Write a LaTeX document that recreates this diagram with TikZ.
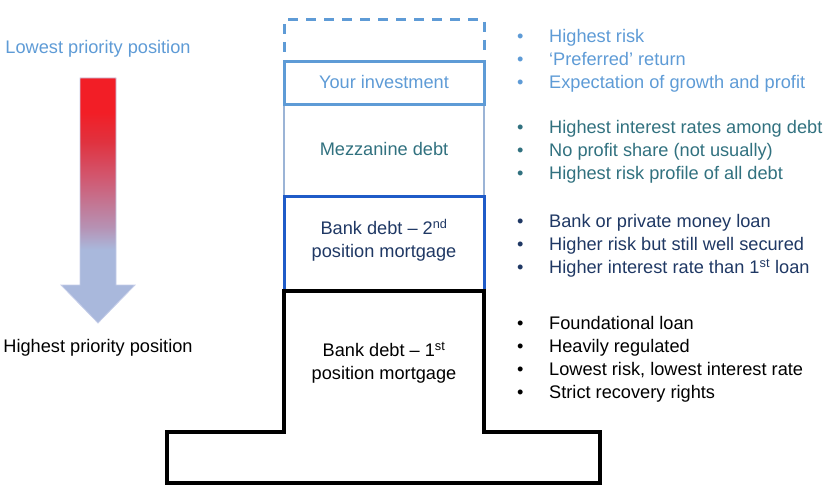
\documentclass[tikz,border=0pt]{standalone}
\usepackage{fontspec}
\setmainfont{Liberation Sans}
\definecolor{lblue}{HTML}{5E9BD6}
\definecolor{tealtxt}{HTML}{31717F}
\definecolor{navy}{HTML}{1F3864}
\definecolor{bblue}{HTML}{1F5BC8}
\definecolor{mzline}{HTML}{9BB4D6}
\definecolor{arrred}{HTML}{F21E26}
\definecolor{arrlav}{HTML}{A9B8DC}
\definecolor{arrmidR}{HTML}{E0323F}
\definecolor{arrmidA}{HTML}{D2566E}
\definecolor{arrmidB}{HTML}{B692B4}
\definecolor{arrline}{HTML}{C5CDE8}
\pgfdeclareverticalshading{prioshade}{100bp}{color(0bp)=(arrlav); color(40bp)=(arrlav); color(44.5bp)=(arrmidB); color(55bp)=(arrmidA); color(62bp)=(arrmidR); color(68bp)=(arrred); color(100bp)=(arrred)}
\begin{document}
\begin{tikzpicture}[x=1pt, y=-1pt, font=\fontsize{18.2}{23}\selectfont,
  tier/.style={rectangle, minimum width=200pt, inner sep=0pt, align=center},
  bulletlist/.style={anchor=west, inner sep=0pt, align=left},
  plainlbl/.style={inner sep=0pt}]
\useasboundingbox (0,0) rectangle (830,495);

% priority arrow
\path[shade, shading=prioshade, draw=arrline, line width=0.8pt]
  (80,78) -- (116,78) -- (116,285) -- (135,285) -- (98,323) -- (61,285) -- (80,285) -- cycle;
\node[plainlbl, text=lblue] (lowlbl) at (98,49) {Lowest priority position};
\node[plainlbl] (highlbl) at (98,348) {Highest priority position};

% stack
\node[tier, draw=mzline, line width=2pt, minimum height=92pt, text=tealtxt] (mezz) at (384,150) {\raisebox{2pt}{Mezzanine debt}};
\node[tier, draw=lblue, line width=3pt, minimum height=42pt, text=lblue] (invest) at (384,83) {\raisebox{3pt}{Your investment}};
\node[tier, draw=bblue, line width=3pt, minimum height=94pt, text=navy] (bank2) at (384,243) {};
\node[plainlbl, align=center, text=navy] (bank2txt) at (384,240.5) {Bank debt – 2\textsuperscript{nd}\\position mortgage};
\draw[lblue, line width=3pt, dash pattern=on 10pt off 8pt] (284,52) -- (284,20) -- (484,20) -- (484,52);
\draw[line width=3.2pt, line join=miter] (284,291) -- (484,291) -- (484,432) -- (600,432) -- (600,483) -- (167,483) -- (167,432) -- (284,432) -- cycle;
\node[plainlbl, align=center] (bank1) at (384,363) {Bank debt – 1\textsuperscript{st}\\position mortgage};

% bullet lists
\node[bulletlist, text=lblue] (list1) at (517,60.5) {\begin{tabular}{@{}p{32pt}@{}l@{}}\textbullet & Highest risk\\ \textbullet & ‘Preferred’ return\\ \textbullet & Expectation of growth and profit\end{tabular}};
\node[bulletlist, text=tealtxt] (list2) at (517,151.5) {\begin{tabular}{@{}p{32pt}@{}l@{}}\textbullet & Highest interest rates among debt\\ \textbullet & No profit share (not usually)\\ \textbullet & Highest risk profile of all debt\end{tabular}};
\node[bulletlist, text=navy] (list3) at (517,246) {\begin{tabular}{@{}p{32pt}@{}l@{}}\textbullet & Bank or private money loan\\ \textbullet & Higher risk but still well secured\\ \textbullet & Higher interest rate than 1\textsuperscript{st} loan\end{tabular}};
\node[bulletlist] (list4) at (517,359.5) {\begin{tabular}{@{}p{32pt}@{}l@{}}\textbullet & Foundational loan\\ \textbullet & Heavily regulated\\ \textbullet & Lowest risk, lowest interest rate\\ \textbullet & Strict recovery rights\end{tabular}};
\end{tikzpicture}
\end{document}
